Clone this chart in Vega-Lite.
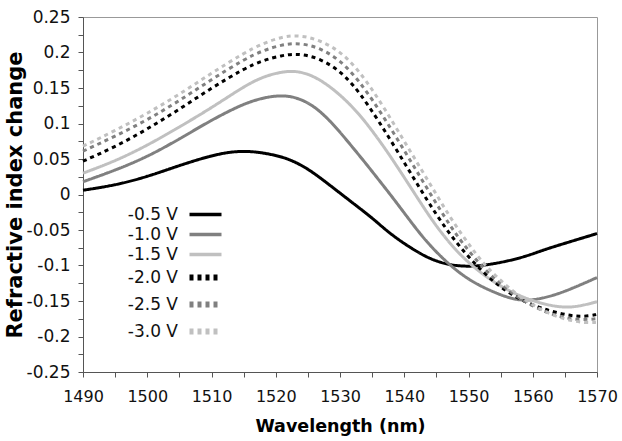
{
  "$schema": "https://vega.github.io/schema/vega-lite/v6.json",
  "width": 514,
  "height": 355,
  "autosize": {"type": "none"},
  "padding": {"left": 83, "top": 17, "right": 25, "bottom": 69},
  "background": "white",
  "config": {
    "view": {"stroke": "#999999", "strokeWidth": 1},
    "font": "DejaVu Sans",
    "axis": {
      "grid": false,
      "domainColor": "#555555",
      "tickColor": "#555555",
      "tickSize": 5,
      "labelFont": "DejaVu Sans",
      "labelColor": "#111111",
      "titleFont": "DejaVu Sans",
      "titleFontWeight": "bold",
      "titleColor": "#000000",
      "labelOverlap": false,
      "labelFlush": false
    }
  },
  "data": {
    "values": [
      {"voltage": "-0.5 V", "wavelength": 1490, "dn": 0.006},
      {"voltage": "-0.5 V", "wavelength": 1495, "dn": 0.013},
      {"voltage": "-0.5 V", "wavelength": 1500, "dn": 0.025},
      {"voltage": "-0.5 V", "wavelength": 1505, "dn": 0.041},
      {"voltage": "-0.5 V", "wavelength": 1510, "dn": 0.055},
      {"voltage": "-0.5 V", "wavelength": 1513, "dn": 0.060},
      {"voltage": "-0.5 V", "wavelength": 1515, "dn": 0.061},
      {"voltage": "-0.5 V", "wavelength": 1517, "dn": 0.060},
      {"voltage": "-0.5 V", "wavelength": 1519, "dn": 0.057},
      {"voltage": "-0.5 V", "wavelength": 1521, "dn": 0.053},
      {"voltage": "-0.5 V", "wavelength": 1523, "dn": 0.046},
      {"voltage": "-0.5 V", "wavelength": 1525, "dn": 0.036},
      {"voltage": "-0.5 V", "wavelength": 1527, "dn": 0.023},
      {"voltage": "-0.5 V", "wavelength": 1529, "dn": 0.009},
      {"voltage": "-0.5 V", "wavelength": 1531, "dn": -0.005},
      {"voltage": "-0.5 V", "wavelength": 1533, "dn": -0.019},
      {"voltage": "-0.5 V", "wavelength": 1535, "dn": -0.033},
      {"voltage": "-0.5 V", "wavelength": 1537, "dn": -0.049},
      {"voltage": "-0.5 V", "wavelength": 1539, "dn": -0.063},
      {"voltage": "-0.5 V", "wavelength": 1541, "dn": -0.075},
      {"voltage": "-0.5 V", "wavelength": 1543, "dn": -0.086},
      {"voltage": "-0.5 V", "wavelength": 1545, "dn": -0.094},
      {"voltage": "-0.5 V", "wavelength": 1547, "dn": -0.099},
      {"voltage": "-0.5 V", "wavelength": 1549, "dn": -0.101},
      {"voltage": "-0.5 V", "wavelength": 1551, "dn": -0.101},
      {"voltage": "-0.5 V", "wavelength": 1553, "dn": -0.099},
      {"voltage": "-0.5 V", "wavelength": 1556, "dn": -0.094},
      {"voltage": "-0.5 V", "wavelength": 1559, "dn": -0.087},
      {"voltage": "-0.5 V", "wavelength": 1562, "dn": -0.077},
      {"voltage": "-0.5 V", "wavelength": 1566, "dn": -0.066},
      {"voltage": "-0.5 V", "wavelength": 1570, "dn": -0.055},

      {"voltage": "-1.0 V", "wavelength": 1490, "dn": 0.018},
      {"voltage": "-1.0 V", "wavelength": 1495, "dn": 0.034},
      {"voltage": "-1.0 V", "wavelength": 1500, "dn": 0.053},
      {"voltage": "-1.0 V", "wavelength": 1505, "dn": 0.078},
      {"voltage": "-1.0 V", "wavelength": 1510, "dn": 0.105},
      {"voltage": "-1.0 V", "wavelength": 1515, "dn": 0.128},
      {"voltage": "-1.0 V", "wavelength": 1518, "dn": 0.136},
      {"voltage": "-1.0 V", "wavelength": 1520, "dn": 0.139},
      {"voltage": "-1.0 V", "wavelength": 1522, "dn": 0.139},
      {"voltage": "-1.0 V", "wavelength": 1524, "dn": 0.134},
      {"voltage": "-1.0 V", "wavelength": 1526, "dn": 0.124},
      {"voltage": "-1.0 V", "wavelength": 1528, "dn": 0.108},
      {"voltage": "-1.0 V", "wavelength": 1530, "dn": 0.088},
      {"voltage": "-1.0 V", "wavelength": 1532, "dn": 0.066},
      {"voltage": "-1.0 V", "wavelength": 1534, "dn": 0.044},
      {"voltage": "-1.0 V", "wavelength": 1536, "dn": 0.021},
      {"voltage": "-1.0 V", "wavelength": 1538, "dn": -0.002},
      {"voltage": "-1.0 V", "wavelength": 1540, "dn": -0.026},
      {"voltage": "-1.0 V", "wavelength": 1542, "dn": -0.050},
      {"voltage": "-1.0 V", "wavelength": 1544, "dn": -0.072},
      {"voltage": "-1.0 V", "wavelength": 1547, "dn": -0.099},
      {"voltage": "-1.0 V", "wavelength": 1550, "dn": -0.120},
      {"voltage": "-1.0 V", "wavelength": 1553, "dn": -0.134},
      {"voltage": "-1.0 V", "wavelength": 1556, "dn": -0.145},
      {"voltage": "-1.0 V", "wavelength": 1558, "dn": -0.149},
      {"voltage": "-1.0 V", "wavelength": 1560, "dn": -0.149},
      {"voltage": "-1.0 V", "wavelength": 1563, "dn": -0.143},
      {"voltage": "-1.0 V", "wavelength": 1566, "dn": -0.133},
      {"voltage": "-1.0 V", "wavelength": 1570, "dn": -0.117},

      {"voltage": "-1.5 V", "wavelength": 1490, "dn": 0.030},
      {"voltage": "-1.5 V", "wavelength": 1495, "dn": 0.047},
      {"voltage": "-1.5 V", "wavelength": 1500, "dn": 0.069},
      {"voltage": "-1.5 V", "wavelength": 1505, "dn": 0.095},
      {"voltage": "-1.5 V", "wavelength": 1510, "dn": 0.122},
      {"voltage": "-1.5 V", "wavelength": 1515, "dn": 0.152},
      {"voltage": "-1.5 V", "wavelength": 1518, "dn": 0.166},
      {"voltage": "-1.5 V", "wavelength": 1521, "dn": 0.173},
      {"voltage": "-1.5 V", "wavelength": 1523, "dn": 0.174},
      {"voltage": "-1.5 V", "wavelength": 1525, "dn": 0.170},
      {"voltage": "-1.5 V", "wavelength": 1527, "dn": 0.161},
      {"voltage": "-1.5 V", "wavelength": 1529, "dn": 0.148},
      {"voltage": "-1.5 V", "wavelength": 1531, "dn": 0.132},
      {"voltage": "-1.5 V", "wavelength": 1533, "dn": 0.113},
      {"voltage": "-1.5 V", "wavelength": 1535, "dn": 0.090},
      {"voltage": "-1.5 V", "wavelength": 1537, "dn": 0.065},
      {"voltage": "-1.5 V", "wavelength": 1539, "dn": 0.038},
      {"voltage": "-1.5 V", "wavelength": 1541, "dn": 0.010},
      {"voltage": "-1.5 V", "wavelength": 1543, "dn": -0.018},
      {"voltage": "-1.5 V", "wavelength": 1545, "dn": -0.045},
      {"voltage": "-1.5 V", "wavelength": 1548, "dn": -0.079},
      {"voltage": "-1.5 V", "wavelength": 1551, "dn": -0.104},
      {"voltage": "-1.5 V", "wavelength": 1554, "dn": -0.124},
      {"voltage": "-1.5 V", "wavelength": 1557, "dn": -0.139},
      {"voltage": "-1.5 V", "wavelength": 1560, "dn": -0.150},
      {"voltage": "-1.5 V", "wavelength": 1563, "dn": -0.157},
      {"voltage": "-1.5 V", "wavelength": 1565, "dn": -0.159},
      {"voltage": "-1.5 V", "wavelength": 1567, "dn": -0.158},
      {"voltage": "-1.5 V", "wavelength": 1570, "dn": -0.151},

      {"voltage": "-2.0 V", "wavelength": 1490, "dn": 0.047},
      {"voltage": "-2.0 V", "wavelength": 1495, "dn": 0.067},
      {"voltage": "-2.0 V", "wavelength": 1500, "dn": 0.092},
      {"voltage": "-2.0 V", "wavelength": 1505, "dn": 0.120},
      {"voltage": "-2.0 V", "wavelength": 1510, "dn": 0.150},
      {"voltage": "-2.0 V", "wavelength": 1515, "dn": 0.177},
      {"voltage": "-2.0 V", "wavelength": 1518, "dn": 0.189},
      {"voltage": "-2.0 V", "wavelength": 1521, "dn": 0.196},
      {"voltage": "-2.0 V", "wavelength": 1523, "dn": 0.198},
      {"voltage": "-2.0 V", "wavelength": 1525, "dn": 0.196},
      {"voltage": "-2.0 V", "wavelength": 1527, "dn": 0.190},
      {"voltage": "-2.0 V", "wavelength": 1529, "dn": 0.180},
      {"voltage": "-2.0 V", "wavelength": 1531, "dn": 0.165},
      {"voltage": "-2.0 V", "wavelength": 1533, "dn": 0.144},
      {"voltage": "-2.0 V", "wavelength": 1536, "dn": 0.104},
      {"voltage": "-2.0 V", "wavelength": 1539, "dn": 0.060},
      {"voltage": "-2.0 V", "wavelength": 1542, "dn": 0.015},
      {"voltage": "-2.0 V", "wavelength": 1545, "dn": -0.029},
      {"voltage": "-2.0 V", "wavelength": 1548, "dn": -0.067},
      {"voltage": "-2.0 V", "wavelength": 1551, "dn": -0.098},
      {"voltage": "-2.0 V", "wavelength": 1554, "dn": -0.124},
      {"voltage": "-2.0 V", "wavelength": 1557, "dn": -0.143},
      {"voltage": "-2.0 V", "wavelength": 1560, "dn": -0.156},
      {"voltage": "-2.0 V", "wavelength": 1563, "dn": -0.165},
      {"voltage": "-2.0 V", "wavelength": 1566, "dn": -0.171},
      {"voltage": "-2.0 V", "wavelength": 1568, "dn": -0.172},
      {"voltage": "-2.0 V", "wavelength": 1570, "dn": -0.169},

      {"voltage": "-2.5 V", "wavelength": 1490, "dn": 0.061},
      {"voltage": "-2.5 V", "wavelength": 1495, "dn": 0.082},
      {"voltage": "-2.5 V", "wavelength": 1500, "dn": 0.105},
      {"voltage": "-2.5 V", "wavelength": 1505, "dn": 0.132},
      {"voltage": "-2.5 V", "wavelength": 1510, "dn": 0.162},
      {"voltage": "-2.5 V", "wavelength": 1515, "dn": 0.190},
      {"voltage": "-2.5 V", "wavelength": 1518, "dn": 0.203},
      {"voltage": "-2.5 V", "wavelength": 1521, "dn": 0.211},
      {"voltage": "-2.5 V", "wavelength": 1523, "dn": 0.213},
      {"voltage": "-2.5 V", "wavelength": 1525, "dn": 0.211},
      {"voltage": "-2.5 V", "wavelength": 1527, "dn": 0.205},
      {"voltage": "-2.5 V", "wavelength": 1529, "dn": 0.195},
      {"voltage": "-2.5 V", "wavelength": 1531, "dn": 0.180},
      {"voltage": "-2.5 V", "wavelength": 1533, "dn": 0.159},
      {"voltage": "-2.5 V", "wavelength": 1535, "dn": 0.134},
      {"voltage": "-2.5 V", "wavelength": 1537, "dn": 0.106},
      {"voltage": "-2.5 V", "wavelength": 1539, "dn": 0.077},
      {"voltage": "-2.5 V", "wavelength": 1541, "dn": 0.047},
      {"voltage": "-2.5 V", "wavelength": 1543, "dn": 0.017},
      {"voltage": "-2.5 V", "wavelength": 1545, "dn": -0.013},
      {"voltage": "-2.5 V", "wavelength": 1547, "dn": -0.042},
      {"voltage": "-2.5 V", "wavelength": 1549, "dn": -0.068},
      {"voltage": "-2.5 V", "wavelength": 1552, "dn": -0.101},
      {"voltage": "-2.5 V", "wavelength": 1555, "dn": -0.127},
      {"voltage": "-2.5 V", "wavelength": 1558, "dn": -0.147},
      {"voltage": "-2.5 V", "wavelength": 1561, "dn": -0.162},
      {"voltage": "-2.5 V", "wavelength": 1564, "dn": -0.172},
      {"voltage": "-2.5 V", "wavelength": 1567, "dn": -0.177},
      {"voltage": "-2.5 V", "wavelength": 1570, "dn": -0.175},

      {"voltage": "-3.0 V", "wavelength": 1490, "dn": 0.068},
      {"voltage": "-3.0 V", "wavelength": 1495, "dn": 0.090},
      {"voltage": "-3.0 V", "wavelength": 1500, "dn": 0.114},
      {"voltage": "-3.0 V", "wavelength": 1505, "dn": 0.141},
      {"voltage": "-3.0 V", "wavelength": 1510, "dn": 0.171},
      {"voltage": "-3.0 V", "wavelength": 1515, "dn": 0.199},
      {"voltage": "-3.0 V", "wavelength": 1518, "dn": 0.213},
      {"voltage": "-3.0 V", "wavelength": 1521, "dn": 0.222},
      {"voltage": "-3.0 V", "wavelength": 1523, "dn": 0.224},
      {"voltage": "-3.0 V", "wavelength": 1525, "dn": 0.222},
      {"voltage": "-3.0 V", "wavelength": 1527, "dn": 0.216},
      {"voltage": "-3.0 V", "wavelength": 1529, "dn": 0.207},
      {"voltage": "-3.0 V", "wavelength": 1531, "dn": 0.193},
      {"voltage": "-3.0 V", "wavelength": 1533, "dn": 0.173},
      {"voltage": "-3.0 V", "wavelength": 1535, "dn": 0.148},
      {"voltage": "-3.0 V", "wavelength": 1537, "dn": 0.120},
      {"voltage": "-3.0 V", "wavelength": 1539, "dn": 0.090},
      {"voltage": "-3.0 V", "wavelength": 1541, "dn": 0.060},
      {"voltage": "-3.0 V", "wavelength": 1543, "dn": 0.030},
      {"voltage": "-3.0 V", "wavelength": 1545, "dn": 0.000},
      {"voltage": "-3.0 V", "wavelength": 1547, "dn": -0.030},
      {"voltage": "-3.0 V", "wavelength": 1549, "dn": -0.057},
      {"voltage": "-3.0 V", "wavelength": 1551, "dn": -0.082},
      {"voltage": "-3.0 V", "wavelength": 1553, "dn": -0.104},
      {"voltage": "-3.0 V", "wavelength": 1556, "dn": -0.130},
      {"voltage": "-3.0 V", "wavelength": 1559, "dn": -0.150},
      {"voltage": "-3.0 V", "wavelength": 1562, "dn": -0.166},
      {"voltage": "-3.0 V", "wavelength": 1565, "dn": -0.176},
      {"voltage": "-3.0 V", "wavelength": 1568, "dn": -0.181},
      {"voltage": "-3.0 V", "wavelength": 1570, "dn": -0.180}
    ]
  },
  "mark": {"type": "line", "interpolate": "basis", "strokeWidth": 3, "strokeCap": "butt"},
  "encoding": {
    "x": {
      "field": "wavelength",
      "type": "quantitative",
      "scale": {"domain": [1490, 1570], "nice": false, "zero": false},
      "axis": {
        "values": [1490, 1495, 1500, 1505, 1510, 1515, 1520, 1525, 1530, 1535, 1540, 1545, 1550, 1555, 1560, 1565, 1570],
        "format": "d",
        "labelExpr": "datum.value % 10 == 0 ? datum.label : ''",
        "labelFontSize": 16,
        "labelPadding": 11,
        "title": "Wavelength (nm)",
        "titleFontSize": 17.5,
        "titlePadding": 13
      }
    },
    "y": {
      "field": "dn",
      "type": "quantitative",
      "scale": {"domain": [-0.25, 0.25], "nice": false, "zero": false},
      "axis": {
        "values": [-0.25, -0.225, -0.2, -0.175, -0.15, -0.125, -0.1, -0.075, -0.05, -0.025, 0, 0.025, 0.05, 0.075, 0.1, 0.125, 0.15, 0.175, 0.2, 0.225, 0.25],
        "format": "~g",
        "labelExpr": "abs(round(datum.value*20) - datum.value*20) < 0.01 ? replace(datum.label, '\u2212', '-') : ''",
        "labelFontSize": 17,
        "labelPadding": 8,
        "title": "Refractive index change",
        "titleFontSize": 21,
        "titlePadding": 1
      }
    },
    "color": {
      "field": "voltage",
      "type": "nominal",
      "scale": {
        "domain": ["-0.5 V", "-1.0 V", "-1.5 V", "-2.0 V", "-2.5 V", "-3.0 V"],
        "range": ["#000000", "#808080", "#c0c0c0", "#000000", "#808080", "#c0c0c0"]
      },
      "legend": {
        "orient": "none",
        "legendX": 114,
        "legendY": 189,
        "title": null,
        "padding": 0,
        "symbolType": "stroke",
        "symbolSize": 1024,
        "symbolStrokeWidth": 4,
        "symbolOffset": 0,
        "labelAlign": "right",
        "labelOffset": -36,
        "labelFont": "DejaVu Sans",
        "labelFontSize": 17,
        "labelColor": "#111111",
        "labelLimit": 200,
        "rowPadding": 2,
        "encode": {
          "symbols": {
            "update": {
              "stroke": {"scale": "color", "field": "value"},
              "strokeDash": {"signal": "datum.index >= 3 ? [6, 7] : [1, 0]"},
              "strokeWidth": {"signal": "datum.index >= 3 ? 6 : 3.5"}
            }
          }
        }
      }
    },
    "strokeDash": {
      "field": "voltage",
      "type": "nominal",
      "scale": {
        "domain": ["-0.5 V", "-1.0 V", "-1.5 V", "-2.0 V", "-2.5 V", "-3.0 V"],
        "range": [[1, 0], [1, 0], [1, 0], [4, 4], [4, 4], [4, 4]]
      },
      "legend": {
        "orient": "none",
        "legendX": 114,
        "legendY": 189,
        "title": null
      }
    }
  }
}
